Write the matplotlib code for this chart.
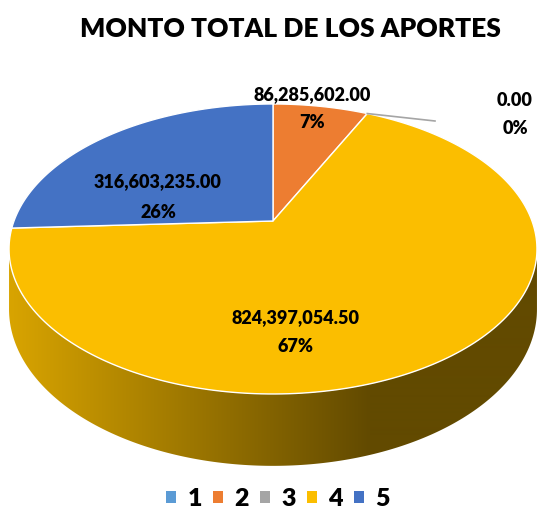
import numpy as np
import matplotlib
matplotlib.use("Agg")
import matplotlib.pyplot as plt
from matplotlib.patches import Polygon, Patch

plt.rcParams['font.family'] = ['Lato', 'DejaVu Sans']
plt.rcParams['font.weight'] = 'heavy'

# datos
categorias = ["1", "2", "3", "4", "5"]
montos = [0.0, 86285602.00, 0.0, 824397054.50, 316603235.00]
colores = ["#5B9BD5", "#ED7D31", "#A5A5A5", "#FBBE00", "#4472C4"]

# geometria del pastel 3D (pixeles)
cx, cy = 273, 221
A, B = 259, 139.6
k = 0.193
H = 58


def proj(theta, depth=0.0):
    t = np.radians(theta)
    u = np.sin(t)
    v = np.cos(t)
    den = 1 + k * v
    return cx + A * u / den, cy - B * v / den + H * depth / den


fig = plt.figure(figsize=(5.38, 5.14), dpi=100)
ax = fig.add_axes([0, 0, 1, 1])
ax.set_xlim(0, 538)
ax.set_ylim(514, 0)
ax.axis("off")

total = sum(montos)
angulos = np.concatenate([[0], np.cumsum(montos) / total * 360])

# lado (solo se ve la parte frontal), con degradado
ts = np.degrees(np.arccos(-k))
th = np.linspace(ts, 360 - ts, 200)
lado = [proj(t) for t in th] + [proj(t, 1) for t in th[::-1]]
poly_lado = Polygon(lado, closed=True, facecolor="none", edgecolor="none")
ax.add_patch(poly_lado)
grad = np.clip((np.arange(538) - 10) / 360, 0, 1)
c_claro = np.array([0xD8, 0xA4, 0x00]) / 255
c_oscuro = np.array([0x62, 0x4A, 0x00]) / 255
img = c_claro[None, None, :] * (1 - grad[None, :, None]) + c_oscuro[None, None, :] * grad[None, :, None]
im = ax.imshow(img, extent=(0, 538, 514, 0), aspect="auto", interpolation="bilinear", zorder=1)
im.set_clip_path(poly_lado)

# cara superior
for i in range(len(montos)):
    if montos[i] <= 0:
        continue
    a0, a1 = angulos[i], angulos[i + 1]
    arco = [proj(t) for t in np.linspace(a0, a1, 200)]
    pts = [(cx, cy)] + arco
    ax.add_patch(Polygon(pts, closed=True, facecolor=colores[i],
                         edgecolor="white", linewidth=1.0, zorder=2))

# linea guia de la categoria 3 (valor cero)
p = proj(angulos[2])
ax.plot([p[0], 435], [p[1], 121], color="#A5A5A5", linewidth=1.2, zorder=3)

# etiquetas
posiciones = {1: (312, 95, 122), 2: (515, 101, 128), 3: (296, 318, 346), 4: (158, 182, 212)}
for i, (x, y1, y2) in posiciones.items():
    ax.text(x, y1, f"{montos[i]:,.2f}", ha="center", va="center", fontsize=13,
            fontweight="heavy", zorder=4)
    ax.text(x, y2, f"{montos[i] / total:.0%}", ha="center", va="center", fontsize=13,
            fontweight="heavy", zorder=4)

ax.text(290, 29, "MONTO TOTAL DE LOS APORTES", ha="center", va="center",
        fontsize=19, fontweight="heavy")

handles = [Patch(facecolor=c, edgecolor="none") for c in colores]
leg = ax.legend(handles, categorias, loc="center", bbox_to_anchor=(278 / 538, 1 - 499 / 514),
                ncol=5, frameon=False, handlelength=0.4, handleheight=0.4,
                handletextpad=0.45, columnspacing=0.45, prop={"size": 18, "weight": "heavy"})

fig.savefig("out.png", dpi=100)
